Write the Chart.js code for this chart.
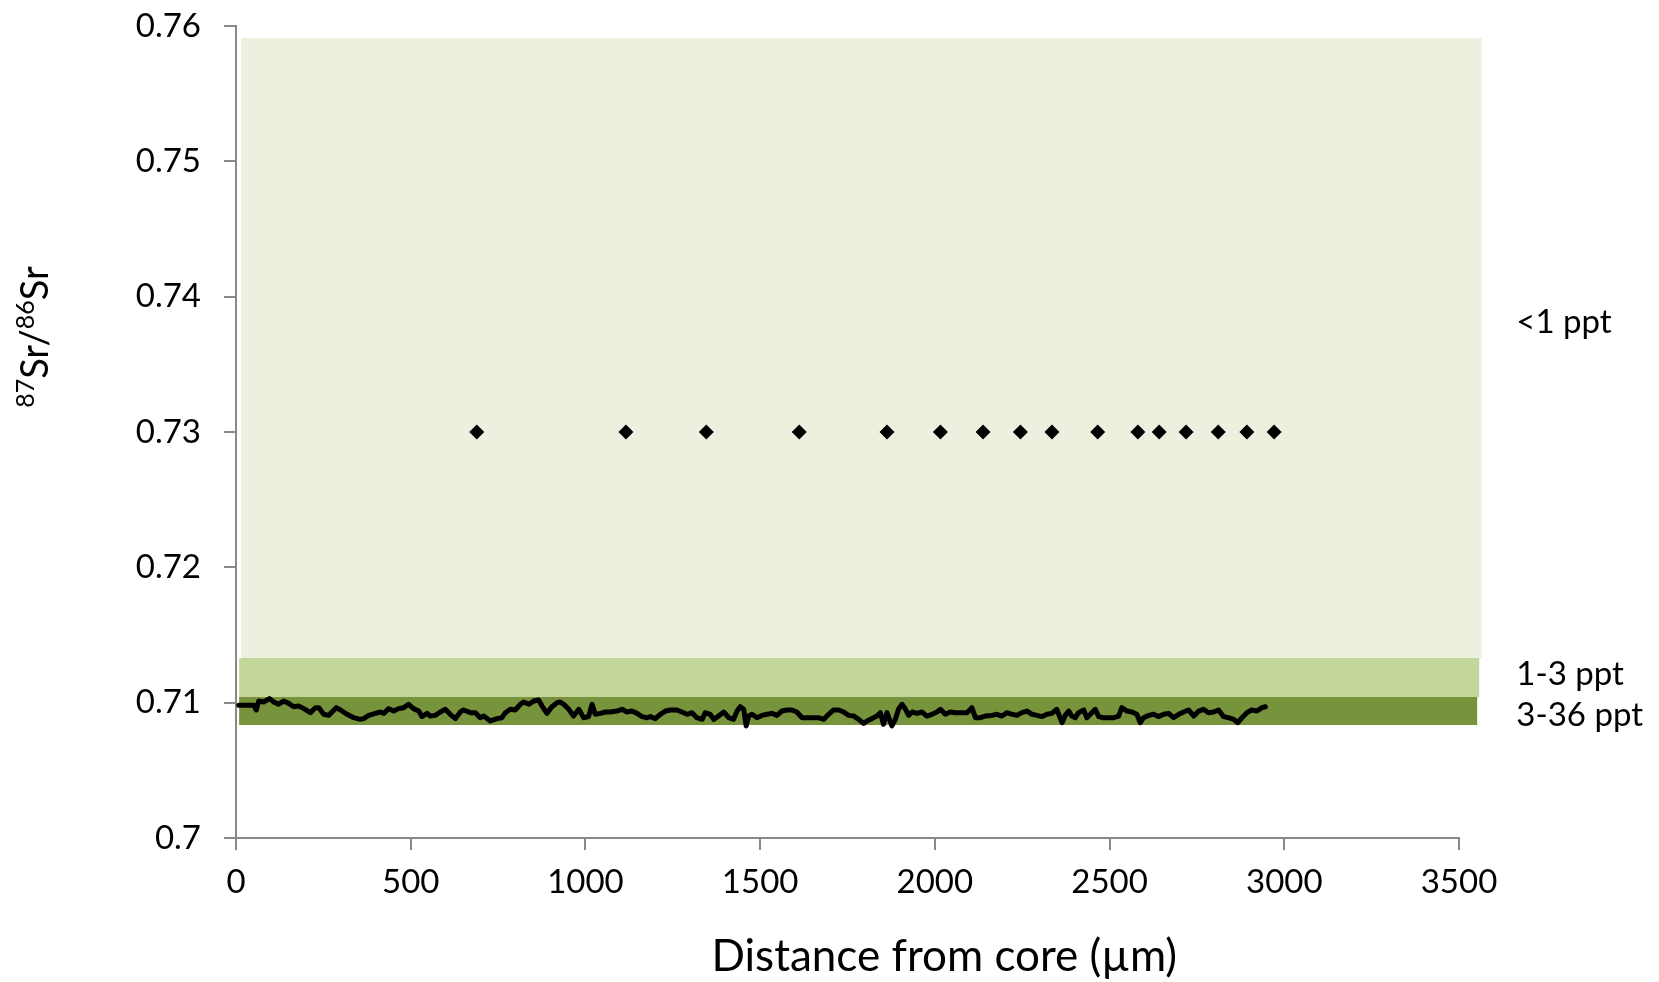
<!DOCTYPE html>
<html>
<head>
<meta charset="utf-8">
<script src="https://cdn.jsdelivr.net/npm/chart.js@4/dist/chart.umd.min.js"></script>
<style>
  html, body { margin: 0; padding: 0; background: #ffffff; }
  #wrap { width: 1659px; height: 982px; }
</style>
</head>
<body>
<div id="wrap"><canvas id="c" width="1659" height="982"></canvas></div>
<script>
// ---- Data ----
const xTicks = [0, 500, 1000, 1500, 2000, 2500, 3000, 3500];
const xTickLabels = ['0', '500', '1000', '1500', '2000', '2500', '3000', '3500'];
const yTicks = [0.70, 0.71, 0.72, 0.73, 0.74, 0.75, 0.76];
const yTickLabels = ['0.7', '0.71', '0.72', '0.73', '0.74', '0.75', '0.76'];

// salinity bands (87Sr/86Sr ranges)
const bandNames = ['<1 ppt', '1-3 ppt', '3-36 ppt'];
const bandLow   = [0.7133, 0.71042, 0.70835];
const bandHigh  = [0.7591, 0.7133, 0.71042];
const bandStart = [15, 9, 9];
const bandEnd   = [3564, 3558, 3552];

// transect profile
const distance = [
  8, 51, 58, 65, 79, 96, 108, 122, 136, 151,
  165, 179, 194, 213, 227, 237, 251, 265, 287, 299,
  318, 337, 356, 365, 380, 399, 413, 423, 437, 451,
  465, 480, 494, 508, 523, 532, 547, 556, 570, 585,
  599, 613, 628, 642, 651, 671, 685, 699, 709, 728,
  747, 761, 771, 785, 799, 814, 823, 838, 852, 866,
  876, 890, 904, 919, 928, 938, 952, 966, 981, 995,
  1009, 1019, 1028, 1043, 1057, 1071, 1090, 1105, 1119, 1133,
  1148, 1162, 1176, 1186, 1200, 1214, 1229, 1243, 1262, 1276,
  1291, 1305, 1319, 1334, 1343, 1357, 1367, 1381, 1396, 1410,
  1424, 1434, 1443, 1453, 1460, 1467, 1477, 1491, 1505, 1520,
  1534, 1548, 1562, 1577, 1591, 1605, 1620, 1634, 1648, 1667,
  1682, 1696, 1710, 1725, 1739, 1753, 1768, 1782, 1796, 1806,
  1820, 1834, 1844, 1853, 1863, 1877, 1887, 1896, 1906, 1915,
  1925, 1935, 1949, 1963, 1977, 1992, 2006, 2016, 2030, 2044,
  2059, 2073, 2092, 2106, 2116, 2130, 2144, 2163, 2178, 2192,
  2206, 2221, 2235, 2249, 2264, 2278, 2292, 2307, 2321, 2335,
  2349, 2364, 2373, 2383, 2392, 2402, 2411, 2426, 2435, 2445,
  2459, 2469, 2483, 2497, 2512, 2526, 2535, 2550, 2564, 2578,
  2588, 2597, 2612, 2626, 2640, 2655, 2669, 2683, 2698, 2712,
  2726, 2741, 2755, 2769, 2783, 2798, 2812, 2826, 2841, 2855,
  2867, 2879, 2893, 2907, 2922, 2936, 2946
];
const srRatio = [
  0.70980, 0.70980, 0.70946, 0.71012, 0.71005, 0.71030, 0.71005, 0.70988, 0.71012, 0.70995,
  0.70970, 0.70975, 0.70956, 0.70926, 0.70963, 0.70963, 0.70914, 0.70906, 0.70963, 0.70946,
  0.70914, 0.70889, 0.70877, 0.70882, 0.70906, 0.70921, 0.70931, 0.70921, 0.70956, 0.70938,
  0.70956, 0.70963, 0.70988, 0.70956, 0.70938, 0.70897, 0.70921, 0.70901, 0.70906, 0.70931,
  0.70951, 0.70914, 0.70882, 0.70931, 0.70946, 0.70926, 0.70926, 0.70889, 0.70901, 0.70865,
  0.70882, 0.70889, 0.70926, 0.70951, 0.70946, 0.70988, 0.71005, 0.70988, 0.71012, 0.71020,
  0.70975, 0.70921, 0.70970, 0.71000, 0.71005, 0.70988, 0.70951, 0.70901, 0.70951, 0.70889,
  0.70897, 0.70988, 0.70914, 0.70921, 0.70931, 0.70931, 0.70938, 0.70951, 0.70931, 0.70938,
  0.70921, 0.70897, 0.70889, 0.70897, 0.70882, 0.70914, 0.70938, 0.70946, 0.70946, 0.70931,
  0.70914, 0.70926, 0.70889, 0.70877, 0.70926, 0.70914, 0.70877, 0.70901, 0.70931, 0.70889,
  0.70877, 0.70938, 0.70970, 0.70951, 0.70828, 0.70901, 0.70914, 0.70889, 0.70906, 0.70914,
  0.70921, 0.70906, 0.70938, 0.70946, 0.70946, 0.70931, 0.70889, 0.70889, 0.70889, 0.70889,
  0.70877, 0.70914, 0.70946, 0.70946, 0.70931, 0.70906, 0.70901, 0.70877, 0.70847, 0.70865,
  0.70882, 0.70901, 0.70926, 0.70840, 0.70926, 0.70828, 0.70877, 0.70951, 0.70988, 0.70956,
  0.70906, 0.70931, 0.70921, 0.70931, 0.70901, 0.70914, 0.70931, 0.70951, 0.70914, 0.70931,
  0.70926, 0.70926, 0.70926, 0.70963, 0.70889, 0.70889, 0.70901, 0.70906, 0.70914, 0.70901,
  0.70926, 0.70914, 0.70906, 0.70926, 0.70938, 0.70914, 0.70906, 0.70897, 0.70914, 0.70921,
  0.70951, 0.70852, 0.70906, 0.70938, 0.70901, 0.70889, 0.70926, 0.70946, 0.70889, 0.70914,
  0.70951, 0.70897, 0.70889, 0.70889, 0.70889, 0.70901, 0.70963, 0.70938, 0.70931, 0.70914,
  0.70852, 0.70889, 0.70906, 0.70914, 0.70897, 0.70914, 0.70921, 0.70889, 0.70914, 0.70931,
  0.70946, 0.70901, 0.70938, 0.70951, 0.70926, 0.70931, 0.70946, 0.70897, 0.70889, 0.70877,
  0.70852, 0.70889, 0.70926, 0.70946, 0.70938, 0.70963, 0.70970
];

// annual marks (diamonds)
const markDistance = [689, 1116, 1346, 1612, 1863, 2016, 2138, 2245, 2335, 2466, 2581, 2642, 2719, 2811, 2893, 2971];
const markValue = [0.73, 0.73, 0.73, 0.73, 0.73, 0.73, 0.73, 0.73, 0.73, 0.73, 0.73, 0.73, 0.73, 0.73, 0.73, 0.73];

// ---- Styling ----
const FONT = 'Lato';
const AXIS_GRAY = '#898989';
const bandColors = ['#EBF1DE', '#C3D69B', '#77933C'];
// label anchors (baseline values) and x for band labels
const bandLabelBaseline = [0.73731, 0.71130, 0.70830];
const bandLabelX = 3664;

const datasets = [
  {
    label: 'marks', type: 'line', showLine: false,
    data: markDistance.map((d, i) => ({ x: d, y: markValue[i] })),
    pointStyle: 'rectRot', pointRadius: 7.5, pointBackgroundColor: '#000', pointBorderWidth: 0,
    order: 0
  },
  {
    label: 'profile', type: 'line',
    data: distance.map((d, i) => ({ x: d, y: srRatio[i] })),
    borderColor: '#000', borderWidth: 5, borderJoinStyle: 'round', borderCapStyle: 'round',
    pointRadius: 0, tension: 0, fill: false, order: 1
  }
];

// salinity bands drawn behind the datasets, positioned through the chart's scales
const bandPlugin = {
  id: 'bands',
  beforeDatasetsDraw(chart) {
    const ctx = chart.ctx;
    const xs = chart.scales.x, ys = chart.scales.y;
    ctx.save();
    bandNames.forEach((n, i) => {
      const x0 = xs.getPixelForValue(bandStart[i]);
      const x1 = xs.getPixelForValue(bandEnd[i]);
      const y0 = ys.getPixelForValue(bandHigh[i]);
      const y1 = ys.getPixelForValue(bandLow[i]);
      ctx.fillStyle = bandColors[i];
      ctx.fillRect(x0, y0, x1 - x0, y1 - y0);
    });
    ctx.restore();
  }
};

const textPlugin = {
  id: 'texts',
  afterDraw(chart) {
    const ctx = chart.ctx;
    const xs = chart.scales.x, ys = chart.scales.y;
    ctx.save();
    ctx.fillStyle = '#000';
    // band labels
    ctx.font = '33px ' + FONT;
    ctx.textAlign = 'left';
    ctx.textBaseline = 'alphabetic';
    bandNames.forEach((n, i) => {
      ctx.fillText(n, xs.getPixelForValue(bandLabelX), ys.getPixelForValue(bandLabelBaseline[i]));
    });
    // x title
    ctx.font = '44px ' + FONT;
    ctx.textAlign = 'center';
    ctx.fillText('Distance from core (\u00b5m)', xs.getPixelForValue(2027), 971);
    // y title with superscripts
    const parts = [['87', true], ['Sr/', false], ['86', true], ['Sr', false]];
    const mainF = '38px ' + FONT, supF = '25px ' + FONT;
    let total = 0;
    const widths = parts.map(p => { ctx.font = p[1] ? supF : mainF; const w = ctx.measureText(p[0]).width; total += w; return w; });
    ctx.translate(48, 337);
    ctx.rotate(-Math.PI / 2);
    ctx.textAlign = 'left';
    let x0 = -total / 2;
    parts.forEach((p, i) => {
      ctx.font = p[1] ? supF : mainF;
      ctx.fillText(p[0], x0, p[1] ? -14 : 0);
      x0 += widths[i];
    });
    ctx.restore();
  }
};

new Chart(document.getElementById('c'), {
  type: 'line',
  data: { datasets },
  plugins: [bandPlugin, textPlugin],
  options: {
    responsive: false,
    animation: false,
    events: [],
    layout: { padding: { left: 0, right: 200, top: 26, bottom: 0 } },
    plugins: { legend: { display: false }, tooltip: { enabled: false } },
    scales: {
      x: {
        type: 'linear', min: 0, max: 3500,
        afterBuildTicks: s => { s.ticks = xTicks.map(v => ({ value: v })); },
        afterFit: s => { s.height = 144; s.paddingLeft = 0; s.paddingRight = 0; },
        grid: { drawOnChartArea: false, drawTicks: true, tickLength: 12, color: AXIS_GRAY, lineWidth: 2 },
        border: { color: AXIS_GRAY, width: 2 },
        ticks: {
          font: { family: FONT, size: 33 }, color: '#000', padding: 13, maxRotation: 0, autoSkip: false,
          callback: (v, i) => xTickLabels[i]
        }
      },
      y: {
        type: 'linear', min: 0.70, max: 0.76,
        afterBuildTicks: s => { s.ticks = yTicks.map(v => ({ value: v })); },
        afterFit: s => { s.width = 236; s.paddingTop = 0; s.paddingBottom = 0; },
        grid: { drawOnChartArea: false, drawTicks: true, tickLength: 12, color: AXIS_GRAY, lineWidth: 2 },
        border: { color: AXIS_GRAY, width: 2 },
        ticks: {
          font: { family: FONT, size: 33 }, color: '#000', padding: 23, autoSkip: false,
          callback: (v, i) => yTickLabels[i]
        }
      }
    }
  }
});
</script>
</body>
</html>
